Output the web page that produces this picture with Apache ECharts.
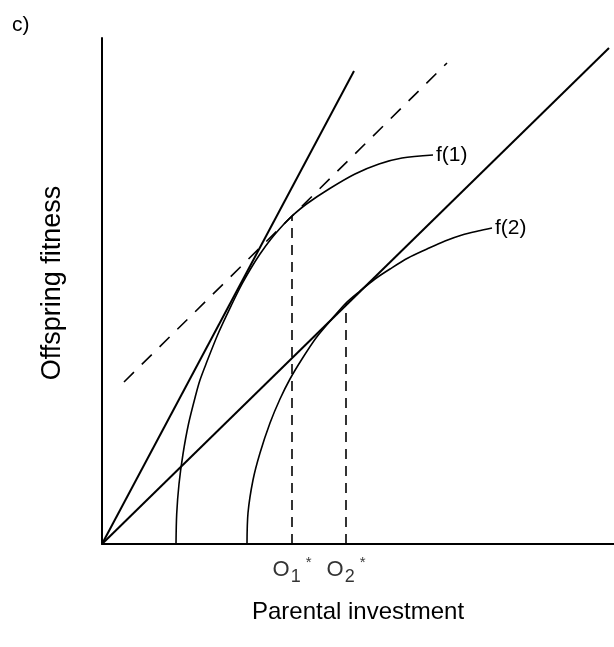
<!DOCTYPE html>
<html>
<head>
<meta charset="utf-8">
<script src="https://cdn.jsdelivr.net/npm/echarts@6/dist/echarts.min.js"></script>
<style>html,body{margin:0;padding:0;background:#fff}#c{width:614px;height:647px}</style>
</head>
<body>
<div id="c"></div>
<script>
// curve f(1): [investment, fitness]
const f1 = [[7.4,0],[7.47,3],[7.7,6],[8.1,9],[8.65,12],[9.4,15],[9.8,16.4],[10.4,18],[11.6,21],[13.0,24],[14.0,26],[14.85,27.5],[15.8,29],[16.9,30.5],[18.2,32],[19.0,32.8],[20.45,34],[22.7,35.5],[25.3,37],[27.7,38],[30.0,38.6],[33.1,38.9]];
// curve f(2)
const f2 = [[14.5,0],[14.6,3.1],[15.1,6.4],[15.8,9.1],[16.8,12.1],[17.8,14.5],[18.8,16.5],[20.0,18.5],[21.4,20.6],[22.9,22.4],[24.4,24.1],[25.8,25.3],[27.3,26.5],[28.8,27.5],[30.6,28.6],[32.5,29.5],[34.3,30.3],[36.0,30.9],[37.6,31.3],[39.0,31.6]];
// straight lines
const steepLine = [[0,0],[25.2,47.3]];
const shallowLine = [[0,0],[50.7,49.6]];
const dashedTangent = [[2.2,16.2],[34.5,48.1]];
// optimum investments
const o1 = [[19.0,0],[19.0,32.8]];
const o2 = [[24.4,0],[24.4,24.1]];
const optLabels = [{value:[19.0,0], sub:'1'},{value:[24.4,0], sub:'2'}];
const curveNames = ['f(1)','f(2)'];

const FONT = '"Liberation Sans", Arial, sans-serif';
const chart = echarts.init(document.getElementById('c'));
const lineBase = {type:'line', symbol:'none', silent:true, animation:false};
chart.setOption({
  animation:false,
  backgroundColor:'#fff',
  title:{text:'c)', left:7, top:10, textStyle:{fontFamily:FONT, fontSize:21, fontWeight:'normal', color:'#000'}},
  grid:{left:102, top:38, right:0, bottom:103},
  xAxis:{type:'value', min:0, max:51.2, splitLine:{show:false}, axisTick:{show:false}, axisLabel:{show:false},
    axisLine:{lineStyle:{color:'#000', width:2}},
    name:'Parental investment', nameLocation:'middle', nameGap:56,
    nameTextStyle:{fontFamily:FONT, fontSize:24, color:'#000'}},
  yAxis:{type:'value', min:0, max:50.6, splitLine:{show:false}, axisTick:{show:false}, axisLabel:{show:false},
    axisLine:{lineStyle:{color:'#000', width:2}},
    name:'Offspring fitness', nameLocation:'middle', nameGap:36,
    nameTextStyle:{fontFamily:FONT, fontSize:27, color:'#000', padding:[0,0,0,16]}},
  series:[
    Object.assign({}, lineBase, {data:steepLine, lineStyle:{color:'#000', width:2}}),
    Object.assign({}, lineBase, {data:shallowLine, lineStyle:{color:'#000', width:2}}),
    Object.assign({}, lineBase, {data:dashedTangent, lineStyle:{color:'#000', width:1.6, type:[14,11]}}),
    Object.assign({}, lineBase, {data:o1, lineStyle:{color:'#000', width:1.6, type:[10,7]}}),
    Object.assign({}, lineBase, {data:o2, lineStyle:{color:'#000', width:1.6, type:[10,7]}}),
    Object.assign({}, lineBase, {data:f1, smooth:0.3, lineStyle:{color:'#000', width:1.6},
      endLabel:{show:true, formatter:curveNames[0], distance:3, fontFamily:FONT, fontSize:21, color:'#000'}}),
    Object.assign({}, lineBase, {data:f2, smooth:0.3, lineStyle:{color:'#000', width:1.6},
      endLabel:{show:true, formatter:curveNames[1], distance:3, fontFamily:FONT, fontSize:21, color:'#000'}}),
    {type:'scatter', symbolSize:0, silent:true, animation:false, data:optLabels.map(d=>({value:d.value, sub:d.sub})),
      label:{show:true, position:'bottom', distance:10, color:'#000',
        formatter:p=>'{o|O}{s|'+p.data.sub+'}{st|*}',
        rich:{
          o:{fontFamily:FONT, fontSize:22, color:'#000'},
          s:{fontFamily:FONT, fontSize:18, color:'#000', padding:[14,0,0,1]},
          st:{fontFamily:FONT, fontSize:15, color:'#000', padding:[0,0,14,5]}
        }}}
  ]
});
</script>
</body>
</html>
